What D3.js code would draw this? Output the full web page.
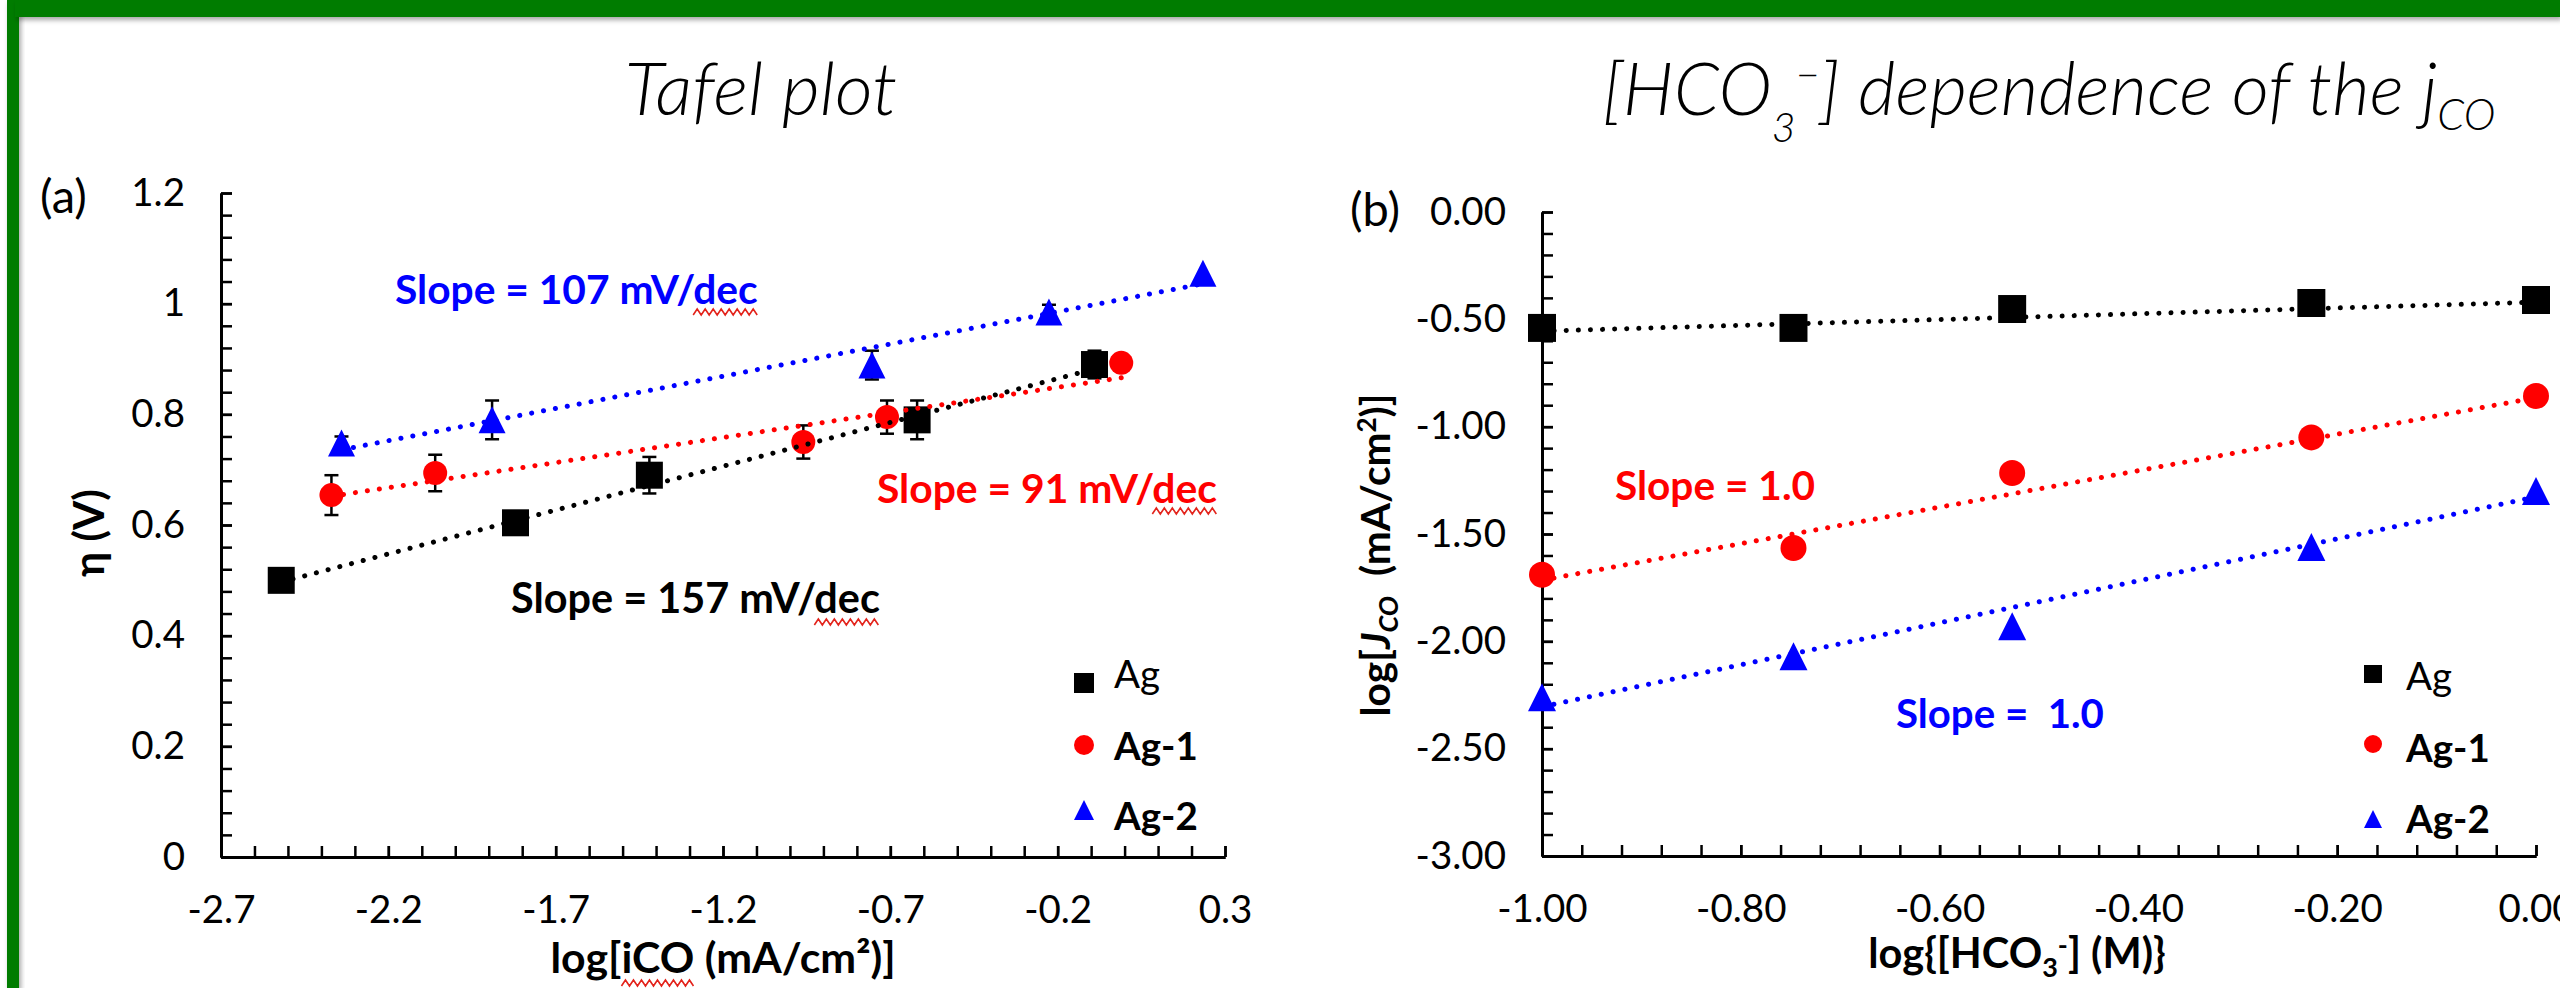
<!DOCTYPE html>
<html>
<head>
<meta charset="utf-8">
<title>Tafel plot and HCO3- dependence</title>
<style>
body { margin: 0; background: #fff; }
svg { display: block; }
text { font-family: Lato, "Open Sans", "DejaVu Sans", sans-serif; }
</style>
<script src="https://cdn.jsdelivr.net/npm/d3@7"></script>
</head>
<body>
<svg id="chart" width="2560" height="988"></svg>
<script>

// ---- panel (a): Tafel plot ----
var tafelXTicks = [-2.7, -2.2, -1.7, -1.2, -0.7, -0.2, 0.3];
var tafelXLabels = ['-2.7', '-2.2', '-1.7', '-1.2', '-0.7', '-0.2', '0.3'];
var tafelYTicks = [0, 0.2, 0.4, 0.6, 0.8, 1, 1.2];
var tafelYLabels = ['0', '0.2', '0.4', '0.6', '0.8', '1', '1.2'];

var tafelAgX  = [-2.52, -1.82, -1.42, -0.62, -0.09];
var tafelAgY  = [0.500, 0.604, 0.690, 0.790, 0.890];
var tafelAgE  = [0, 0, 0.033, 0.035, 0.025];
var tafelAg1X = [-2.37, -2.06, -0.96, -0.71, -0.01];
var tafelAg1Y = [0.654, 0.694, 0.750, 0.795, 0.893];
var tafelAg1E = [0.036, 0.033, 0.030, 0.030, 0];
var tafelAg2X = [-2.34, -1.89, -0.755, -0.226, 0.234];
var tafelAg2Y = [0.748, 0.790, 0.889, 0.985, 1.055];
var tafelAg2E = [0.012, 0.035, 0.026, 0.013, 0];

// trendline end points
var tafelFitAgX  = [-2.52, -0.09],  tafelFitAgY  = [0.497, 0.882];
var tafelFitAg1X = [-2.37, -0.01],  tafelFitAg1Y = [0.652, 0.866];
var tafelFitAg2X = [-2.34, 0.234],  tafelFitAg2Y = [0.736, 1.036];

// ---- panel (b): [HCO3-] dependence ----
var bicXTicks = [-1, -0.8, -0.6, -0.4, -0.2, 0];
var bicXLabels = ['-1.00', '-0.80', '-0.60', '-0.40', '-0.20', '0.00'];
var bicYTicks = [-3, -2.5, -2, -1.5, -1, -0.5, 0];
var bicYLabels = ['-3.00', '-2.50', '-2.00', '-1.50', '-1.00', '-0.50', '0.00'];

var bicX     = [-1.00, -0.747, -0.527, -0.226, 0.00];
var bicAgY   = [-0.540, -0.540, -0.452, -0.424, -0.410];
var bicAg1Y  = [-1.690, -1.565, -1.216, -1.050, -0.857];
var bicAg2Y  = [-2.260, -2.070, -1.930, -1.560, -1.300];

var bicFitX = [-1, 0];
var bicFitAgY  = [-0.555, -0.420];
var bicFitAg1Y = [-1.715, -0.865];
var bicFitAg2Y = [-2.305, -1.327];

var seriesNames = ['Ag', 'Ag-1', 'Ag-2'];
var seriesColors = ['#000000', '#ff0000', '#0000ff'];

var svg = d3.select('#chart');
var TICK = 11;

var defs = svg.append('defs');
var f = defs.append('filter').attr('id', 'shadow').attr('x', '-50%').attr('y', '-50%').attr('width', '200%').attr('height', '200%');
f.append('feDropShadow').attr('dx', 2).attr('dy', 3).attr('stdDeviation', 2.5).attr('flood-color', '#000').attr('flood-opacity', 0.35);

// custom triangle with equal width and height
var triangle = {
  draw: function(ctx, size) {
    var h = Math.sqrt(size);
    ctx.moveTo(0, -h / 2);
    ctx.lineTo(h / 2, h / 2);
    ctx.lineTo(-h / 2, h / 2);
    ctx.closePath();
  }
};
function markerPath(i, s) {
  if (i == 0) return d3.symbol(d3.symbolSquare, s * s)();
  if (i == 1) return d3.symbol(d3.symbolCircle, Math.PI * s * s / 4)();
  return d3.symbol(triangle, s * s)();
}

function drawAxes(x, y, xt, xl, yt, yl, xMinorStep, yMinorStep) {
  var x0 = x.range()[0], y0 = y.range()[0];
  var xMinor = d3.range(x.domain()[0], x.domain()[1] + 1e-9, xMinorStep);
  var yMinor = d3.range(y.domain()[0], y.domain()[1] + 1e-9, yMinorStep);

  var gx = svg.append('g').attr('transform', 'translate(0,' + y0 + ')');
  gx.call(d3.axisBottom(x).tickValues(xMinor).tickSize(-TICK).tickSizeOuter(0).tickFormat(''));
  gx.append('g').call(d3.axisBottom(x).tickValues(xt).tickSize(-TICK).tickSizeOuter(0).tickPadding(39)
    .tickFormat(function(d, i) { return xl[i]; }));

  var gy = svg.append('g').attr('transform', 'translate(' + x0 + ',0)');
  gy.call(d3.axisLeft(y).tickValues(yMinor).tickSize(-TICK).tickSizeOuter(0).tickFormat(''));
  gy.append('g').call(d3.axisLeft(y).tickValues(yt).tickSize(-TICK).tickSizeOuter(0).tickPadding(36)
    .tickFormat(function(d, i) { return yl[i]; }));

  [gx, gy].forEach(function(g) {
    g.selectAll('.domain').attr('stroke', '#000').attr('stroke-width', 3);
    g.selectAll('.tick line').attr('stroke', '#000').attr('stroke-width', 2.5);
    g.selectAll('text').attr('font-family', 'Lato, sans-serif').attr('font-size', 38.5).attr('fill', '#000');
  });
}

function drawSeries(x, y, xs, ys, es, idx, size) {
  var pts = xs.map(function(v, i) { return {x: v, y: ys[i], e: es ? es[i] : 0}; });
  var g = svg.append('g');
  g.selectAll('g.eb').data(pts.filter(function(d) { return d.e > 0; })).join('g').attr('class', 'eb')
    .each(function(d) {
      var s = d3.select(this), cx = x(d.x);
      s.append('line').attr('x1', cx).attr('x2', cx).attr('y1', y(d.y - d.e)).attr('y2', y(d.y + d.e));
      s.append('line').attr('x1', cx - 7).attr('x2', cx + 7).attr('y1', y(d.y - d.e)).attr('y2', y(d.y - d.e));
      s.append('line').attr('x1', cx - 7).attr('x2', cx + 7).attr('y1', y(d.y + d.e)).attr('y2', y(d.y + d.e));
    })
    .selectAll('line').attr('stroke', '#000').attr('stroke-width', 2.5);
  g.selectAll('path').data(pts).join('path')
    .attr('d', markerPath(idx, size))
    .attr('transform', function(d) { return 'translate(' + x(d.x) + ',' + y(d.y) + ')'; })
    .attr('fill', seriesColors[idx]);
}

function drawFit(x, y, xs, ys, idx) {
  svg.append('path')
    .datum(xs.map(function(v, i) { return [v, ys[i]]; }))
    .attr('d', d3.line().x(function(d) { return x(d[0]); }).y(function(d) { return y(d[1]); }))
    .attr('fill', 'none').attr('stroke', seriesColors[idx]).attr('stroke-width', 5)
    .attr('stroke-linecap', 'round').attr('stroke-dasharray', '0.1 12');
}

function label(x, y, txt, opt) {
  opt = opt || {};
  return svg.append('text').attr('x', x).attr('y', y)
    .attr('font-size', opt.size || 38.5).attr('font-weight', opt.weight || 400)
    .attr('font-style', opt.style || 'normal')
    .attr('text-anchor', opt.anchor || 'start')
    .attr('fill', opt.fill || '#000').style('white-space', 'pre')
    .text(txt);
}

// red spell-check squiggle under some characters of a text
function squiggle(t, from, to, below) {
  var n = t.node();
  var a = n.getStartPositionOfChar(from), b = n.getEndPositionOfChar(to);
  var pts = [], k = 0;
  for (var xx = a.x; xx <= b.x; xx += 4, k++) pts.push([xx, a.y + below + (k % 2 ? -3 : 3)]);
  svg.append('path').attr('d', d3.line()(pts)).attr('fill', 'none')
    .attr('stroke', '#e3231b').attr('stroke-width', 1.6);
}

function legend(cx, ys, tys, tx, size) {
  seriesNames.forEach(function(name, i) {
    svg.append('path').attr('d', markerPath(i, size)).attr('fill', seriesColors[i])
      .attr('transform', 'translate(' + cx + ',' + ys[i] + ')');
    label(tx, tys[i], name, {weight: i == 0 ? 400 : 700});
  });
}

// ---------- panel (a) ----------
var xL = d3.scaleLinear().domain([-2.7, 0.3]).range([221, 1225]);
var yL = d3.scaleLinear().domain([0, 1.2]).range([857, 193]);
drawAxes(xL, yL, tafelXTicks, tafelXLabels, tafelYTicks, tafelYLabels, 0.1, 0.04);

drawSeries(xL, yL, tafelAgX, tafelAgY, tafelAgE, 0, 27);
drawSeries(xL, yL, tafelAg1X, tafelAg1Y, tafelAg1E, 1, 24);
drawSeries(xL, yL, tafelAg2X, tafelAg2Y, tafelAg2E, 2, 27);
drawFit(xL, yL, tafelFitAgX, tafelFitAgY, 0);
drawFit(xL, yL, tafelFitAg1X, tafelFitAg1Y, 1);
drawFit(xL, yL, tafelFitAg2X, tafelFitAg2Y, 2);

var s1 = label(395, 304, 'Slope = 107 mV/dec', {size: 40.7, weight: 700, fill: '#0000ff'});
squiggle(s1, 15, 17, 8);
var s2 = label(877, 503, 'Slope = 91 mV/dec', {size: 40.8, weight: 700, fill: '#ff0000'});
squiggle(s2, 14, 16, 8);
var s3 = label(511, 613, 'Slope = 157 mV/dec', {size: 41.4, weight: 700, fill: '#000'});
squiggle(s3, 15, 17, 9);

legend(1084, [683, 745, 810], [688, 760, 830], 1114, 20);

label(40, 213, '(a)', {size: 47});
svg.append('text').attr('transform', 'translate(104,533) rotate(-90)')
  .attr('text-anchor', 'middle').attr('font-size', 42).attr('font-weight', 700).text('η (V)');
var xtA = label(723, 973, 'log[iCO (mA/cm²)]', {size: 42.8, weight: 700, anchor: 'middle'});
squiggle(xtA, 4, 6, 10);

label(761, 115, 'Tafel plot', {size: 73.5, weight: 300, style: 'italic', anchor: 'middle'});

// ---------- panel (b) ----------
var xR = d3.scaleLinear().domain([-1, 0]).range([1542, 2536]);
var yR = d3.scaleLinear().domain([-3, 0]).range([856, 212]);
drawAxes(xR, yR, bicXTicks, bicXLabels, bicYTicks, bicYLabels, 0.04, 0.1);

drawSeries(xR, yR, bicX, bicAgY, null, 0, 28);
drawSeries(xR, yR, bicX, bicAg1Y, null, 1, 26);
drawSeries(xR, yR, bicX, bicAg2Y, null, 2, 28);
drawFit(xR, yR, bicFitX, bicFitAgY, 0);
drawFit(xR, yR, bicFitX, bicFitAg1Y, 1);
drawFit(xR, yR, bicFitX, bicFitAg2Y, 2);

label(1615, 500, 'Slope = 1.0', {size: 40.6, weight: 700, fill: '#ff0000'});
label(1896, 728, 'Slope =  1.0', {size: 40.2, weight: 700, fill: '#0000ff'});

legend(2373, [674, 744, 819], [690, 762, 833], 2406, 18);

label(1350, 226, '(b)', {size: 47});

var yt = svg.append('text').attr('transform', 'translate(1390,555) rotate(-90)')
  .attr('text-anchor', 'middle').attr('font-size', 40.6).attr('font-weight', 700).style('white-space', 'pre');
yt.append('tspan').text('log[');
yt.append('tspan').attr('font-style', 'italic').text('J');
yt.append('tspan').attr('font-style', 'italic').attr('font-size', 27).attr('dy', 8).text('CO');
yt.append('tspan').attr('dy', -8).text('  (mA/cm');
yt.append('tspan').attr('font-size', 26).attr('dy', -14).text('2');
yt.append('tspan').attr('dy', 14).text(')]');

var xt = svg.append('text').attr('x', 2017).attr('y', 968).attr('text-anchor', 'middle')
  .attr('font-size', 41.5).attr('font-weight', 700);
xt.append('tspan').text('log{[HCO');
xt.append('tspan').attr('font-size', 27).attr('dy', 9).text('3');
xt.append('tspan').attr('font-size', 27).attr('dy', -22).text('-');
xt.append('tspan').attr('dy', 13).text('] (M)}');

var tt = svg.append('text').attr('x', 2049).attr('y', 115).attr('text-anchor', 'middle')
  .attr('font-size', 72.5).attr('font-weight', 300).attr('font-style', 'italic');
tt.append('tspan').text('[HCO');
tt.append('tspan').attr('font-size', 41).attr('dy', 27).text('3');
tt.append('tspan').attr('font-size', 41).attr('dy', -52).text('\u2212');
tt.append('tspan').attr('dy', 25).text('] dependence of the j');
tt.append('tspan').attr('font-size', 43).attr('dy', 15).text('CO');

// green slide border
svg.append('rect').attr('x', 7).attr('y', 0).attr('width', 12).attr('height', 988)
  .attr('fill', '#007c00').attr('filter', 'url(#shadow)');
svg.append('rect').attr('x', 15).attr('y', 0).attr('width', 2545).attr('height', 17)
  .attr('fill', '#007c00').attr('filter', 'url(#shadow)');
</script>
</body>
</html>
